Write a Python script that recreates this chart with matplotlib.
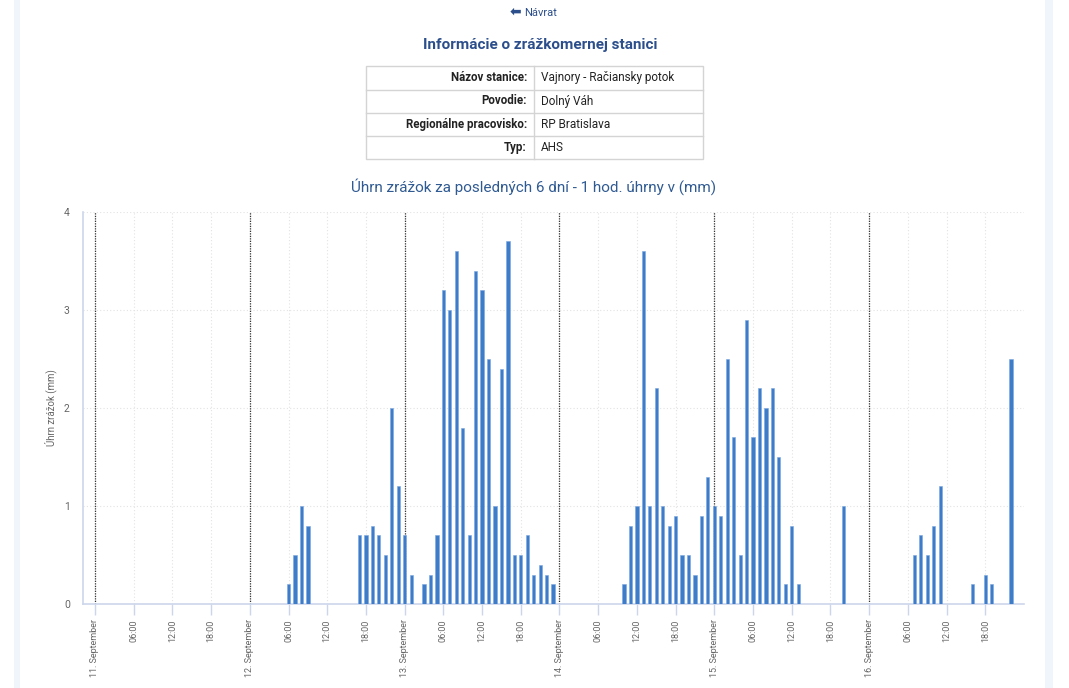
import pandas as pd
import matplotlib.pyplot as plt
from matplotlib.patches import Rectangle

plt.rcParams['font.family'] = ['Roboto', 'DejaVu Sans']

# hodinové úhrny zrážok (mm) - iba hodiny s nenulovým úhrnom
casy = [
    "2024-09-12 06:00", "2024-09-12 07:00", "2024-09-12 08:00", "2024-09-12 09:00",
    "2024-09-12 17:00", "2024-09-12 18:00", "2024-09-12 19:00", "2024-09-12 20:00",
    "2024-09-12 21:00", "2024-09-12 22:00", "2024-09-12 23:00",
    "2024-09-13 00:00", "2024-09-13 01:00", "2024-09-13 03:00", "2024-09-13 04:00",
    "2024-09-13 05:00", "2024-09-13 06:00", "2024-09-13 07:00", "2024-09-13 08:00",
    "2024-09-13 09:00", "2024-09-13 10:00", "2024-09-13 11:00", "2024-09-13 12:00",
    "2024-09-13 13:00", "2024-09-13 14:00", "2024-09-13 15:00", "2024-09-13 16:00",
    "2024-09-13 17:00", "2024-09-13 18:00", "2024-09-13 19:00", "2024-09-13 20:00",
    "2024-09-13 21:00", "2024-09-13 22:00", "2024-09-13 23:00",
    "2024-09-14 10:00", "2024-09-14 11:00", "2024-09-14 12:00", "2024-09-14 13:00",
    "2024-09-14 14:00", "2024-09-14 15:00", "2024-09-14 16:00", "2024-09-14 17:00",
    "2024-09-14 18:00", "2024-09-14 19:00", "2024-09-14 20:00", "2024-09-14 21:00",
    "2024-09-14 22:00", "2024-09-14 23:00",
    "2024-09-15 00:00", "2024-09-15 01:00", "2024-09-15 02:00", "2024-09-15 03:00",
    "2024-09-15 04:00", "2024-09-15 05:00", "2024-09-15 06:00", "2024-09-15 07:00",
    "2024-09-15 08:00", "2024-09-15 09:00", "2024-09-15 10:00", "2024-09-15 11:00",
    "2024-09-15 12:00", "2024-09-15 13:00", "2024-09-15 20:00",
    "2024-09-16 07:00", "2024-09-16 08:00", "2024-09-16 09:00", "2024-09-16 10:00",
    "2024-09-16 11:00", "2024-09-16 16:00", "2024-09-16 18:00", "2024-09-16 19:00",
    "2024-09-16 22:00",
]
uhrny = [
    0.2, 0.5, 1.0, 0.8,
    0.7, 0.7, 0.8, 0.7,
    0.5, 2.0, 1.2,
    0.7, 0.3, 0.2, 0.3,
    0.7, 3.2, 3.0, 3.6,
    1.8, 0.7, 3.4, 3.2,
    2.5, 1.0, 2.4, 3.7,
    0.5, 0.5, 0.7, 0.3,
    0.4, 0.3, 0.2,
    0.2, 0.8, 1.0, 3.6,
    1.0, 2.2, 1.0, 0.8,
    0.9, 0.5, 0.5, 0.3,
    0.9, 1.3,
    1.0, 0.9, 2.5, 1.7,
    0.5, 2.9, 1.7, 2.2,
    2.0, 2.2, 1.5, 0.2,
    0.8, 0.2, 1.0,
    0.5, 0.7, 0.5, 0.8,
    1.2, 0.2, 0.3, 0.2,
    2.5,
]

zaciatok = pd.Timestamp("2024-09-11 00:00")
tabulka_popisy = ["Názov stanice:", "Povodie:", "Regionálne pracovisko:", "Typ:"]
tabulka_hodnoty = ["Vajnory - Račiansky potok", "Dolný Váh", "RP Bratislava", "AHS"]

modra = '#2c4f8c'
seda = '#666666'
os_farba = '#ccd6eb'

fig = plt.figure(figsize=(10.69, 6.88), dpi=100)

# vrstva stránky v pixelových súradniciach
page = fig.add_axes([0, 0, 1, 1])
page.set_xlim(0, 1069)
page.set_ylim(688, 0)
page.axis('off')
page.add_patch(Rectangle((14, 0), 6, 688, color='#f0f4fb', lw=0))
page.add_patch(Rectangle((1045, 0), 8, 688, color='#f0f4fb', lw=0))

page.text(521, 12, "⬅", ha='right', va='center', fontsize=10, color=modra,
          fontweight='bold', family=['DejaVu Sans'])
page.text(524, 13, "Návrat", ha='left', va='center', fontsize=8, color=modra)
page.text(540, 45, "Informácie o zrážkomernej stanici", ha='center', va='center',
          fontsize=11, fontweight='bold', color=modra)

# tabuľka s informáciami o stanici
x0, x1, xs = 366, 703, 534
y_riadky = [66, 89.5, 112.5, 136, 159]
page.add_patch(Rectangle((x0, y_riadky[0]), x1 - x0, y_riadky[-1] - y_riadky[0],
                         fill=False, ec='#d4d4d4', lw=1))
for y in y_riadky[1:-1]:
    page.plot([x0, x1], [y, y], color='#d4d4d4', lw=1)
page.plot([xs, xs], [y_riadky[0], y_riadky[-1]], color='#d4d4d4', lw=1)
for i, (popis, hodnota) in enumerate(zip(tabulka_popisy, tabulka_hodnoty)):
    yc = (y_riadky[i] + y_riadky[i + 1]) / 2
    page.text(527, yc, popis, ha='right', va='center', fontsize=8.3,
              fontweight='bold', color='#222222')
    page.text(541, yc, hodnota, ha='left', va='center', fontsize=8.5, color='#222222')

page.text(534, 187, "Úhrn zrážok za posledných 6 dní - 1 hod. úhrny v (mm)",
          ha='center', va='center', fontsize=11, color='#2f5a92')

# graf
ax = fig.add_axes([83 / 1069, 1 - 604 / 688, (1024 - 83) / 1069, (604 - 212) / 688])
ax.set_facecolor('none')
t = pd.to_datetime(casy)
ax.bar(t, uhrny, width=0.5 / 24, color='#3d7cc9', edgecolor='#7aa7df', lw=0.4, zorder=3)

ax.set_xlim(zaciatok - pd.Timedelta(hours=1.86), zaciatok + pd.Timedelta(hours=144))
ax.set_ylim(0, 4)

ticky = pd.date_range(zaciatok, periods=24, freq='6h')
popisky = [f"{d.day}. September" if d.hour == 0 else d.strftime("%H:%M") for d in ticky]
ax.set_xticks(ticky)
ax.set_xticklabels(popisky, rotation=90, va='top', ha='center')
ax.tick_params(axis='x', length=8, width=1, color=os_farba, labelsize=6.5,
               labelcolor=seda, pad=3)
ax.set_yticks([0, 1, 2, 3, 4])
ax.tick_params(axis='y', length=0, labelsize=7.5, labelcolor=seda, pad=9.5)

ax.grid(True, axis='both', color='#e3e3e3', linestyle=(0, (1, 2)), lw=0.8, zorder=0)
for d in ticky[::4]:
    ax.axvline(d, color='#333333', linestyle=(0, (1, 1)), lw=0.9, zorder=2)

for s in ['top', 'right']:
    ax.spines[s].set_visible(False)
for s in ['left', 'bottom']:
    ax.spines[s].set_color(os_farba)
    ax.spines[s].set_linewidth(1.2)

ax.set_ylabel("Úhrn zrážok (mm)", fontsize=7, color=seda, labelpad=5)

fig.savefig('out.png', dpi=100)
